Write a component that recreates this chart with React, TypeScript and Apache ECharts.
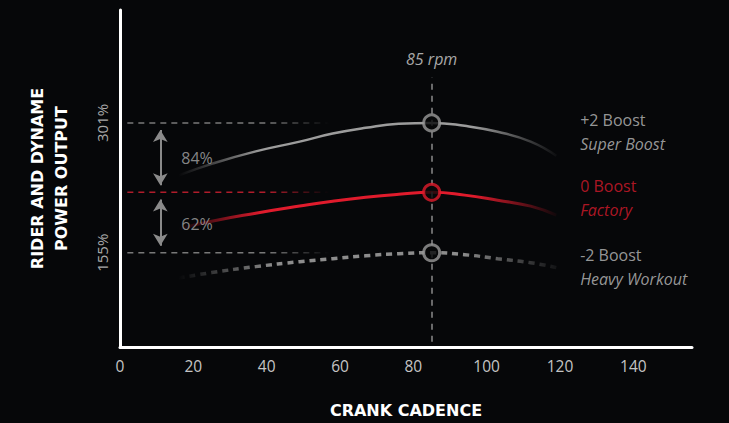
import React, { useEffect, useRef } from "react";
import * as echarts from "echarts";

const cadence = [16, 25, 37, 49, 58, 67, 76, 85, 94, 103, 112, 119];
const superBoost = [242, 255, 269, 280, 289, 295.5, 300, 301, 297.7, 291, 280, 264];
const factory = [182, 190.5, 199.5, 207.5, 213, 217.5, 220.8, 223, 219.8, 214, 207.4, 197.4];
const heavyWorkout = [126.5, 132.7, 139.4, 144.9, 148.3, 151.6, 153.9, 155, 152.8, 148.3, 143.8, 138.3];
const xTickLabels = [0, 20, 40, 60, 80, 100, 120, 140];
const yTickLabels = [155, 301];
const boostLevels = ["+2 Boost", "0 Boost", "-2 Boost"];
const modeNames = ["Super Boost", "Factory", "Heavy Workout"];
const gainLabels = ["84%", "62%"];
const peakCadence = 85;

const BG = "#060709";
const GREY = "#9a9a9a";
const RED = "#e01b2c";
const FONT = "'Open Sans', Roboto, sans-serif";
const BOLD_FONT = "'DejaVu Sans', 'Open Sans', sans-serif";

function fade(rgb: string, a0: number, s1: number, s2: number, a3: number) {
  return new echarts.graphic.LinearGradient(0, 0, 1, 0, [
    { offset: 0, color: `rgba(${rgb},${a0})` },
    { offset: s1, color: `rgba(${rgb},1)` },
    { offset: s2, color: `rgba(${rgb},1)` },
    { offset: 1, color: `rgba(${rgb},${a3})` },
  ]);
}

export default function App() {
  const ref = useRef<HTMLDivElement>(null);
  useEffect(() => {
    if (!ref.current) return;
    const chart = echarts.init(ref.current, null, { renderer: "svg" });
    const pk = cadence.indexOf(peakCadence);
    const peaks = [superBoost[pk], factory[pk], heavyWorkout[pk]];
    const pair = (arr: number[]) => cadence.map((c, i) => [c, arr[i]]);
    const refStart = 2;
    const refEnd = 57;
    const refRgb = ["120,120,120", "176,28,42", "120,120,120"];
    const refLine = (v: number, i: number) => ({
      type: "line",
      id: "ref" + i,
      data: [
        [refStart, v],
        [refEnd, v],
      ],
      symbol: "none",
      silent: true,
      lineStyle: { width: 1.5, type: [6, 5], color: `rgba(${refRgb[i]},1)` },
      z: 1,
    });
    const gap = 8;
    const arrowStyle = { color: "#8a8a8a", width: 2, type: "solid" };
    const arrowX = 11;
    const labelX = 125.5;
    const labelOffsets = [9, 6, 14];
    const labelColors = ["#bdbdbd", "#d81b2c", "#bdbdbd"];

    chart.setOption({
      animation: false,
      backgroundColor: BG,
      textStyle: { fontFamily: FONT },
      grid: { left: 120, right: 37, top: 10, bottom: 73, containLabel: false },
      xAxis: {
        type: "value",
        min: 0,
        max: 156,
        interval: 20,
        name: "CRANK CADENCE",
        nameLocation: "middle",
        nameGap: 55,
        nameTextStyle: { color: "#ffffff", fontSize: 16, fontWeight: "bold", fontFamily: BOLD_FONT },
        axisLine: { show: true, lineStyle: { color: "#ffffff", width: 3 } },
        axisTick: { show: false },
        splitLine: { show: false },
        axisLabel: {
          customValues: xTickLabels,
          color: "#c4c4c4",
          fontSize: 15.5,
          margin: 11,
          fontFamily: FONT,
        },
      },
      yAxis: {
        type: "value",
        min: 49,
        max: 428,
        name: "RIDER AND DYNAME\nPOWER OUTPUT",
        nameLocation: "middle",
        nameGap: 47,
        nameTextStyle: {
          color: "#ffffff",
          fontSize: 16,
          fontWeight: "bold",
          lineHeight: 23.5,
          fontFamily: BOLD_FONT,
        },
        axisLine: { show: true, lineStyle: { color: "#ffffff", width: 3 } },
        axisTick: { show: false },
        splitLine: { show: false },
        axisLabel: {
          customValues: yTickLabels,
          formatter: (v: number) => v + "%",
          rotate: 90,
          color: "#a8a8a8",
          fontSize: 15,
          margin: 11,
          fontFamily: FONT,
        },
      },
      series: [
        refLine(peaks[0], 0),
        refLine(peaks[1], 1),
        refLine(peaks[2], 2),
        {
          type: "line",
          name: modeNames[0],
          data: pair(superBoost),
          smooth: true,
          symbol: "none",
          lineStyle: { width: 2.5, color: fade("156,156,156", 0, 0.22, 0.78, 0.05) },
          z: 3,
          markLine: {
            silent: true,
            symbol: ["none", "none"],
            label: {
              show: true,
              position: "end",
              formatter: peakCadence + " rpm",
              color: "#a8a8a8",
              fontStyle: "italic",
              fontSize: 16,
              distance: 11,
              fontFamily: FONT,
            },
            lineStyle: { color: "#8a8a8a", width: 1.5, type: [6, 6] },
            data: [[{ coord: [peakCadence, 55] }, { coord: [peakCadence, 352] }]],
          },
        },
        {
          type: "line",
          name: modeNames[1],
          data: pair(factory),
          smooth: true,
          symbol: "none",
          lineStyle: { width: 3, color: fade("224,27,44", 0, 0.22, 0.78, 0.05) },
          z: 3,
          markLine: {
            silent: true,
            symbol: ["arrow", "arrow"],
            symbolSize: [11, 12],
            label: { show: false },
            lineStyle: arrowStyle,
            data: [
              [{ coord: [arrowX, peaks[0] - gap] }, { coord: [arrowX, peaks[1] + gap] }],
              [{ coord: [arrowX, peaks[1] - gap] }, { coord: [arrowX, peaks[2] + gap] }],
            ],
          },
        },
        {
          type: "line",
          name: modeNames[2],
          data: pair(heavyWorkout),
          smooth: true,
          symbol: "none",
          lineStyle: { width: 3.5, type: [6, 5], color: fade("140,140,140", 0, 0.25, 0.75, 0.1) },
          z: 3,
        },
        {
          type: "scatter",
          silent: true,
          symbol: "circle",
          symbolSize: 16,
          z: 5,
          data: peaks.map((p, i) => ({
            value: [peakCadence, p],
            itemStyle: { color: BG, borderColor: i === 1 ? RED : GREY, borderWidth: 3 },
          })),
        },
        {
          type: "scatter",
          silent: true,
          symbolSize: 0,
          z: 4,
          data: [
            { value: [21, (peaks[0] + peaks[1]) / 2], name: gainLabels[0] },
            { value: [21, (peaks[1] + peaks[2]) / 2 - 2], name: gainLabels[1] },
          ],
          label: {
            show: true,
            position: "inside",
            formatter: "{b}",
            color: "#a8a8a8",
            fontSize: 16,
            fontFamily: FONT,
          },
        },
        {
          type: "scatter",
          silent: true,
          symbolSize: 0,
          z: 4,
          data: peaks.map((p, i) => ({
            value: [labelX, p],
            label: {
              show: true,
              position: "right",
              distance: 0,
              offset: [0, labelOffsets[i]],
              formatter: `{a|${boostLevels[i]}}\n{b|${modeNames[i]}}`,
              rich: {
                a: { color: labelColors[i], fontSize: 16, lineHeight: 24, fontFamily: FONT },
                b: {
                  color: labelColors[i],
                  fontSize: 16,
                  lineHeight: 24,
                  fontStyle: "italic",
                  fontFamily: FONT,
                },
              },
            },
          })),
        },
      ],
    });

    // fading gradients for the horizontal reference lines (global pixel coords)
    const x0 = chart.convertToPixel({ gridIndex: 0 }, [refStart, peaks[0]])[0];
    const x1 = chart.convertToPixel({ gridIndex: 0 }, [refEnd, peaks[0]])[0];
    chart.setOption({
      series: peaks.map((_, i) => ({
        id: "ref" + i,
        lineStyle: {
          color: new echarts.graphic.LinearGradient(
            x0,
            0,
            x1,
            0,
            [
              { offset: 0, color: `rgba(${refRgb[i]},1)` },
              { offset: 0.7, color: `rgba(${refRgb[i]},1)` },
              { offset: 1, color: `rgba(${refRgb[i]},0)` },
            ],
            true
          ),
        },
      })),
    });
    return () => chart.dispose();
  }, []);
  return (
    <div
      ref={ref}
      style={{ position: "fixed", left: 0, top: 0, width: 729, height: 423, background: BG }}
    />
  );
}
